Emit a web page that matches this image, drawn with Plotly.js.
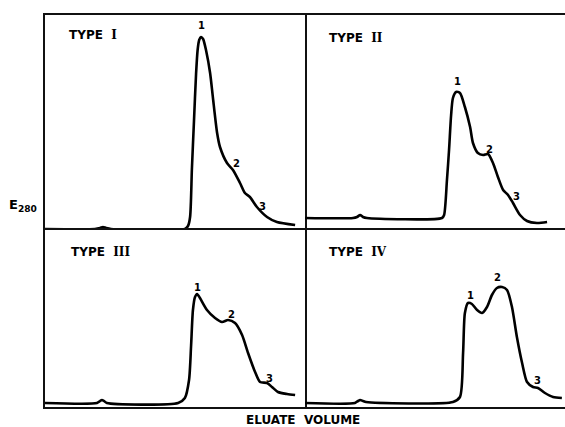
<!DOCTYPE html>
<html>
<head>
<meta charset="utf-8">
<script src="https://cdn.plot.ly/plotly-3.0.1.min.js"></script>
<style>html,body{margin:0;padding:0;background:#fff;}#chart{width:565px;height:427px;}</style>
</head>
<body>
<div id="chart"></div>
<script>
// Eluate volume (arbitrary units, 0-100 per panel) and E280 (arbitrary units)
const typeI_x = [0, 19.2, 21.2, 22.3, 23.5, 25.4, 53.8, 55.0, 55.8, 56.5, 57.3, 58.1, 58.7, 59.3, 60.0, 60.8, 62.0, 63.5, 64.6, 66.2, 67.3, 70.0, 72.3, 75.0, 76.9, 78.8, 81.5, 85.4, 89.2, 96.2];
const typeI_y = [0, 0, 0.01, 0.02, 0.01, 0, 0, 0.03, 0.12, 0.60, 1.08, 1.55, 1.79, 1.89, 1.92, 1.90, 1.78, 1.56, 1.31, 0.96, 0.82, 0.66, 0.59, 0.46, 0.36, 0.32, 0.22, 0.12, 0.07, 0.04];

const typeII_x = [0, 18.5, 20.0, 21.2, 22.3, 23.8, 52.7, 53.5, 54.6, 55.4, 56.2, 56.9, 58.1, 59.6, 61.5, 63.5, 64.6, 66.5, 68.5, 70.4, 72.3, 74.2, 76.2, 78.1, 80.0, 82.7, 85.4, 89.2, 93.1];
const typeII_y = [0, 0, 0.01, 0.03, 0.01, 0, 0, 0.03, 0.38, 0.68, 1.03, 1.20, 1.26, 1.25, 1.11, 0.91, 0.75, 0.65, 0.63, 0.64, 0.55, 0.41, 0.28, 0.23, 0.15, 0.03, -0.03, -0.05, -0.04];

const typeIII_x = [0, 20.0, 21.2, 21.9, 22.7, 23.8, 51.2, 53.8, 55.4, 56.2, 56.9, 57.7, 58.5, 59.6, 62.3, 65.4, 68.1, 70.4, 73.1, 75.8, 78.1, 80.8, 82.7, 85.4, 87.3, 89.6, 93.1, 96.2];
const typeIII_y = [0, 0, 0.02, 0.03, 0.02, 0, 0, 0.05, 0.23, 0.58, 0.93, 1.06, 1.09, 1.05, 0.93, 0.85, 0.81, 0.83, 0.80, 0.68, 0.50, 0.31, 0.21, 0.20, 0.16, 0.11, 0.09, 0.08];

const typeIV_x = [0, 19.2, 20.4, 21.2, 22.3, 23.5, 56.9, 59.6, 60.8, 61.5, 62.7, 64.2, 66.2, 68.1, 70.0, 71.9, 73.8, 75.8, 77.7, 79.6, 81.5, 83.5, 85.4, 87.7, 89.6, 92.3, 95.4, 98.8];
const typeIV_y = [0, 0, 0.02, 0.03, 0.02, 0.01, 0.01, 0.06, 0.50, 0.90, 1.00, 0.99, 0.93, 0.90, 0.96, 1.08, 1.15, 1.16, 1.13, 0.96, 0.66, 0.40, 0.21, 0.16, 0.15, 0.10, 0.06, 0.05];

const panelWord = "TYPE";
const panelNumerals = ["I", "II", "III", "IV"];
const peakNames = ["1", "2", "3"];
// peak label positions (volume, E280) per panel
const peakI_x = [60.0, 73.8, 83.8],  peakI_y = [2.04, 0.66, 0.23];
const peakII_x = [58.5, 70.8, 81.2], peakII_y = [1.37, 0.69, 0.22];
const peakIII_x = [58.5, 71.9, 86.5], peakIII_y = [1.16, 0.89, 0.25];
const peakIV_x = [63.5, 74.2, 89.6], peakIV_y = [1.08, 1.26, 0.23];

const W = 565, H = 427;
const px = v => v / W, py = v => 1 - v / H;
const xL = [px(45), px(305)], xR = [px(305), 1];
const yT = [py(230), py(15)], yB = [py(407), py(230)];

const series = [
  [typeI_x, typeI_y, 'x', 'y'],
  [typeII_x, typeII_y, 'x2', 'y2'],
  [typeIII_x, typeIII_y, 'x3', 'y3'],
  [typeIV_x, typeIV_y, 'x4', 'y4']
];
const data = series.map(s => ({
  x: s[0], y: s[1], xaxis: s[2], yaxis: s[3], type: 'scatter', mode: 'lines',
  line: {color: '#000', width: 2.6, shape: 'spline', smoothing: 0.7},
  hoverinfo: 'skip', showlegend: false
}));

function ax(domain, range, show, mirror, side, anchor) {
  const a = {domain: domain, range: range, showline: show, linecolor: '#111', linewidth: 2,
    mirror: mirror, showgrid: false, zeroline: false, showticklabels: false, ticks: '',
    anchor: anchor, fixedrange: true};
  if (side) a.side = side;
  return a;
}

const font = {family: 'DejaVu Sans', size: 12, color: '#000'};
const ann = [];
const typePos = [[8.5, 1.94, 'x', 'y'], [8.5, 1.80, 'x2', 'y2'], [9.2, 1.51, 'x3', 'y3'], [8.5, 1.51, 'x4', 'y4']];
panelNumerals.forEach((n, i) => {
  ann.push({text: '<b>' + panelWord + '&nbsp; <span style="font-family:DejaVu Serif">' + n + '</span></b>',
    x: typePos[i][0], y: typePos[i][1], xref: typePos[i][2], yref: typePos[i][3],
    xanchor: 'left', yanchor: 'middle', showarrow: false, font: font});
});
const peaks = [[peakI_x, peakI_y, 'x', 'y'], [peakII_x, peakII_y, 'x2', 'y2'], [peakIII_x, peakIII_y, 'x3', 'y3'], [peakIV_x, peakIV_y, 'x4', 'y4']];
peaks.forEach(p => {
  peakNames.forEach((n, j) => {
    ann.push({text: '<b>' + n + '</b>', x: p[0][j], y: p[1][j], xref: p[2], yref: p[3],
      xanchor: 'center', yanchor: 'middle', showarrow: false, font: {family: 'DejaVu Sans', size: 10, color: '#000'}});
  });
});
ann.push({text: '<b>E<sub>280</sub></b>', x: px(7), y: py(205), xref: 'paper', yref: 'paper',
  xanchor: 'left', yanchor: 'middle', showarrow: false, font: {family: 'DejaVu Sans', size: 13, color: '#000'}});
ann.push({text: '<b>ELUATE&nbsp; VOLUME</b>', x: px(303), y: py(420), xref: 'paper', yref: 'paper',
  xanchor: 'center', yanchor: 'middle', showarrow: false, font: {family: 'DejaVu Sans', size: 12, color: '#000'}});

const layout = {
  width: W, height: H, margin: {l: 0, r: 0, t: 0, b: 0},
  paper_bgcolor: '#fff', plot_bgcolor: 'rgba(0,0,0,0)', showlegend: false,
  // top-left: top border only on x (bottom border comes from panel below); left + right border on y
  xaxis: ax(xL, [0, 100], true, false, 'top', 'y'),
  yaxis: ax(yT, [-0.01, 2.14], true, true, null, 'x'),
  xaxis2: ax(xR, [0, 100], true, false, 'top', 'y2'),
  yaxis2: ax(yT, [-0.12, 2.03], false, false, null, 'x2'),
  xaxis3: ax(xL, [0, 100], true, true, null, 'y3'),
  yaxis3: ax(yB, [-0.04, 1.73], true, true, null, 'x3'),
  xaxis4: ax(xR, [0, 100], true, true, null, 'y4'),
  yaxis4: ax(yB, [-0.04, 1.73], false, false, null, 'x4'),
  annotations: ann
};
Plotly.newPlot('chart', data, layout, {displayModeBar: false, staticPlot: true});
</script>
</body>
</html>
